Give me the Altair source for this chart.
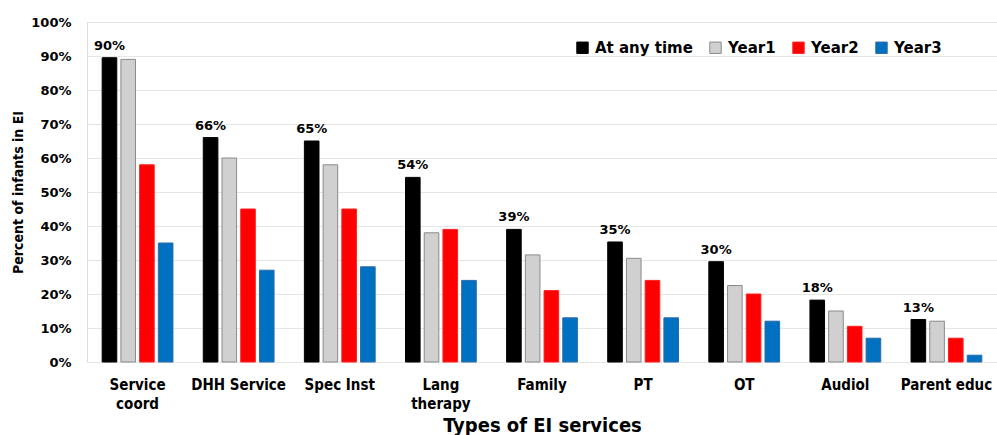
import altair as alt
import pandas as pd

categories = ["Service coord", "DHH Service", "Spec Inst", "Lang therapy", "Family",
              "PT", "OT", "Audiol", "Parent educ"]
series = ["At any time", "Year1", "Year2", "Year3"]
at_any_time = [89.5, 66, 65, 54.3, 39, 35.3, 29.5, 18.2, 12.5]
year1 = [89, 60, 58, 38, 31.5, 30.5, 22.5, 15, 12]
year2 = [58, 45, 45, 39, 21, 24, 20, 10.5, 7]
year3 = [35, 27, 28, 24, 13, 13, 12, 7, 2]
top_labels = ["90%", "66%", "65%", "54%", "39%", "35%", "30%", "18%", "13%"]
y_ticks = [0, 10, 20, 30, 40, 50, 60, 70, 80, 90, 100]
colors = ["#000000", "#d0d0d0", "#ff0000", "#0070c0"]
strokes = ["#000000", "#8a8a8a", "#ff2020", "#2a6aa8"]

NARROW = "'DejaVu Sans Condensed', 'Liberation Sans Narrow', 'Liberation Sans', Arial, sans-serif"

rows = []
for s, vals in zip(series, [at_any_time, year1, year2, year3]):
    for c, v in zip(categories, vals):
        rows.append({"cat": c, "series": s, "value": v})
df = pd.DataFrame(rows)
lab = pd.DataFrame({"cat": categories, "series": ["At any time"] * len(categories),
                    "value": at_any_time, "label": top_labels})

x_enc = alt.X("cat:N", sort=categories, title="Types of EI services",
              scale=alt.Scale(paddingInner=0.3, paddingOuter=0.15),
              axis=alt.Axis(labelAngle=0, labelFont=NARROW, labelFontSize=15,
                            labelFontWeight="bold", labelColor="#000", labelPadding=15,
                            labelLineHeight=19, ticks=False, domain=False,
                            labelExpr="datum.label == 'Service coord' ? ['Service','coord'] : datum.label == 'Lang therapy' ? ['Lang','therapy'] : datum.label",
                            titleFont=NARROW, titleFontSize=20,
                            titleFontWeight="bold", titleColor="#000", titlePadding=4))
xo_enc = alt.XOffset("series:N", scale=alt.Scale(domain=series, paddingInner=0.22))
y_enc = alt.Y("value:Q", title="Percent of infants  in EI",
              scale=alt.Scale(domain=[0, 100]),
              axis=alt.Axis(values=y_ticks, tickCount=11, labelExpr="datum.value + '%'",
                            labelFont="DejaVu Sans", labelFontSize=13, labelFontWeight="bold",
                            labelColor="#000", labelPadding=16, ticks=False, domain=False,
                            labelOverlap=False,
                            gridColor="#e6e6e6", titleFont=NARROW,
                            titleFontSize=14, titleFontWeight="bold", titleColor="#000",
                            titlePadding=5))

bars = alt.Chart(df).mark_bar(strokeWidth=1).encode(
    x=x_enc, xOffset=xo_enc, y=y_enc,
    color=alt.Color("series:N", scale=alt.Scale(domain=series, range=colors), title=None,
                    legend=alt.Legend(orient="none", legendX=488, legendY=18, direction="horizontal",
                                      columns=4, symbolType="square", symbolSize=130,
                                      symbolStrokeWidth=1, labelFont="DejaVu Sans",
                                      labelFontSize=15, labelFontWeight="bold", labelColor="#000",
                                      columnPadding=14, labelOffset=5, symbolOpacity=1)),
    stroke=alt.Stroke("series:N", scale=alt.Scale(domain=series, range=strokes), title=None),
)

texts = alt.Chart(lab).mark_text(font="DejaVu Sans", fontSize=13, fontWeight="bold",
                                 color="#000", dy=-5, baseline="bottom").encode(
    x=x_enc, xOffset=xo_enc, y=y_enc, text="label:N")

chart = alt.layer(bars, texts).properties(
    width=910, height=340,
    autosize=alt.AutoSizeParams(type="none"),
    padding={"left": 87, "top": 22, "right": 0, "bottom": 73},
).configure_view(stroke=None).configure(background="white")

chart.save("out.html", embed_options={"renderer": "svg", "actions": False})
